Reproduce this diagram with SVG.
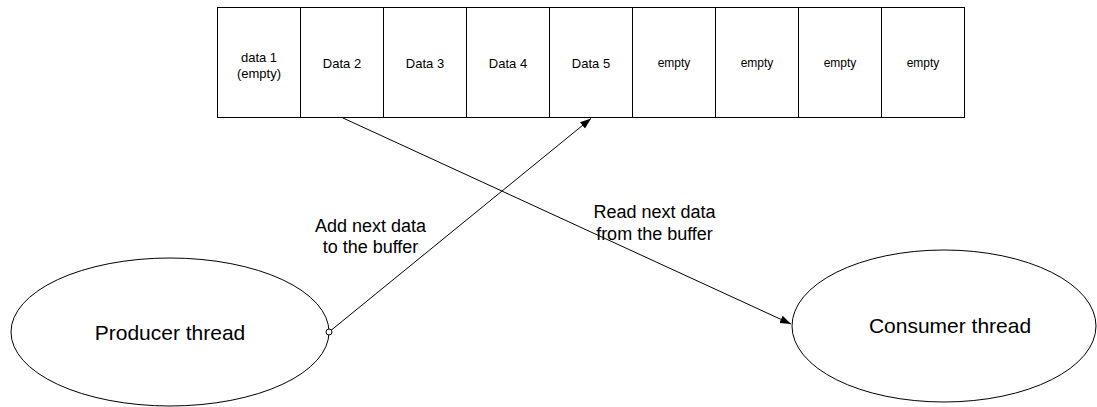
<svg xmlns="http://www.w3.org/2000/svg" width="1097" height="407" viewBox="0 0 1097 407">
  <style>
    .cell { fill: #fff; stroke: #000; stroke-width: 1; }
    .node { fill: #fff; stroke: #000; stroke-width: 1; }
    .t { font-family: "Liberation Sans", Arial, sans-serif; fill: #000; text-anchor: middle; }
    .data { font-size: 13px; }
    .small { font-size: 12px; }
    .lbl { font-size: 18px; }
    .big { font-size: 21px; }
    .edge { fill: none; stroke: #000; stroke-width: 1; }
  </style>
  <defs>
    <marker id="arrow" markerWidth="12" markerHeight="10" refX="11" refY="5" orient="auto" markerUnits="userSpaceOnUse">
      <path d="M0,1 L11,5 L0,9 Z" fill="#000"/>
    </marker>
  </defs>
  <rect width="1097" height="407" fill="#fff"/>

  <!-- ring buffer slots -->
  <g id="buffer">
    <g id="slot1"><rect class="cell" x="217.5" y="7.5" width="83" height="110"/>
      <text class="t data" x="259" y="61.5">data 1</text>
      <text class="t data" x="259" y="77.5">(empty)</text></g>
    <g id="slot2"><rect class="cell" x="300.5" y="7.5" width="83" height="110"/>
      <text class="t data" x="342" y="67.5">Data 2</text></g>
    <g id="slot3"><rect class="cell" x="383.5" y="7.5" width="83" height="110"/>
      <text class="t data" x="425" y="67.5">Data 3</text></g>
    <g id="slot4"><rect class="cell" x="466.5" y="7.5" width="83" height="110"/>
      <text class="t data" x="508" y="67.5">Data 4</text></g>
    <g id="slot5"><rect class="cell" x="549.5" y="7.5" width="83" height="110"/>
      <text class="t data" x="591" y="67.5">Data 5</text></g>
    <g id="slot6"><rect class="cell" x="632.5" y="7.5" width="83" height="110"/>
      <text class="t small" x="674" y="67">empty</text></g>
    <g id="slot7"><rect class="cell" x="715.5" y="7.5" width="83" height="110"/>
      <text class="t small" x="757" y="67">empty</text></g>
    <g id="slot8"><rect class="cell" x="798.5" y="7.5" width="83" height="110"/>
      <text class="t small" x="840" y="67">empty</text></g>
    <g id="slot9"><rect class="cell" x="881.5" y="7.5" width="83" height="110"/>
      <text class="t small" x="923" y="67">empty</text></g>
  </g>

  <g id="producer">
    <ellipse class="node" cx="170" cy="332" rx="159" ry="74"/>
    <text class="t big" x="170" y="339.5">Producer thread</text>
  </g>

  <g id="consumer">
    <ellipse class="node" cx="944" cy="326" rx="152" ry="76"/>
    <text class="t big" x="950" y="332.5">Consumer thread</text>
  </g>

  <g id="connectors">
    <line class="edge" x1="329" y1="332" x2="591" y2="118.5" marker-end="url(#arrow)"/>
    <circle cx="329" cy="332" r="3" fill="#fff" stroke="#000" stroke-width="1"/>
    <line class="edge" x1="343" y1="118" x2="791" y2="324" marker-end="url(#arrow)"/>
    <text class="t lbl" x="370.5" y="231.5">Add next data</text>
    <text class="t lbl" x="370.5" y="253">to the buffer</text>
    <text class="t lbl" x="654.5" y="218">Read next data</text>
    <text class="t lbl" x="654.5" y="239.5">from the buffer</text>
  </g>
</svg>
